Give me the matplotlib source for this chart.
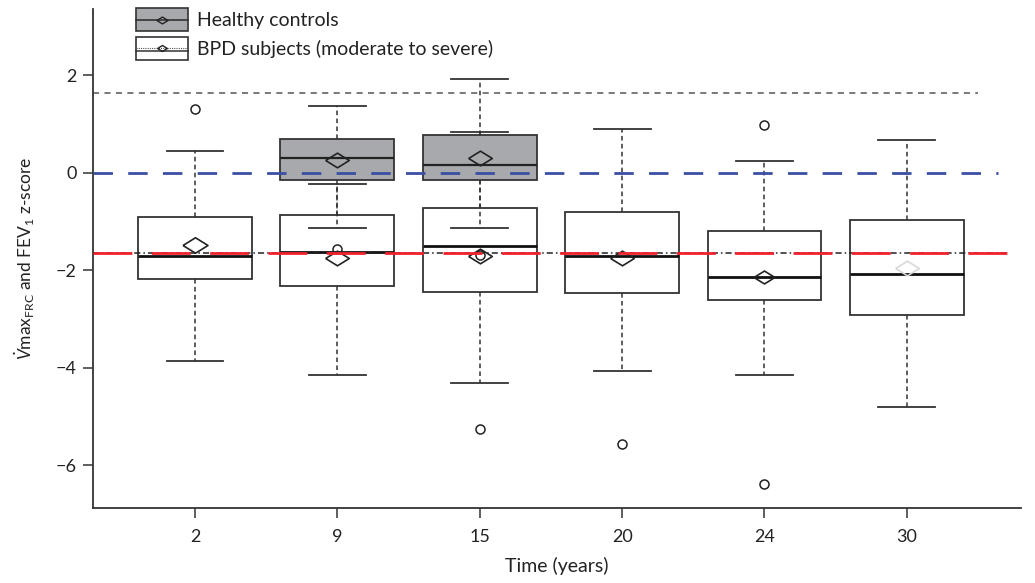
import matplotlib
matplotlib.use('Agg')
import matplotlib.pyplot as plt
from matplotlib.legend_handler import HandlerBase
from matplotlib.patches import Rectangle
from matplotlib.lines import Line2D
import numpy as np

plt.rcParams['font.family'] = ['Lato', 'DejaVu Sans']
plt.rcParams['mathtext.fontset'] = 'custom'
plt.rcParams['mathtext.rm'] = 'Lato'
plt.rcParams['mathtext.it'] = 'Lato:italic'

# time points (years)
ages = ['2', '9', '15', '20', '24', '30']

# BPD subjects (moderate to severe)
bpd_med = [-1.71, -1.62, -1.50, -1.71, -2.14, -2.07]
bpd_q1 = [-2.17, -2.32, -2.44, -2.47, -2.61, -2.92]
bpd_q3 = [-0.90, -0.86, -0.72, -0.80, -1.20, -0.97]
bpd_lo = [-3.86, -4.15, -4.31, -4.06, -4.15, -4.80]
bpd_hi = [0.45, -0.23, 0.84, 0.89, 0.25, 0.67]
bpd_mean = [-1.48, -1.75, -1.71, -1.75, -2.14, -1.96]
bpd_out = [[1.31], [], [-5.26], [-5.56], [0.97, -6.38], []]

# healthy controls (only at 9 and 15 years)
hc_idx = [1, 2]
hc_med = [0.30, 0.16]
hc_q1 = [-0.15, -0.15]
hc_q3 = [0.69, 0.78]
hc_lo = [-1.14, -1.14]
hc_hi = [1.36, 1.92]
hc_mean = [0.26, 0.30]
hc_out = [[-1.57], [-1.69]]

uln = 1.645
lln = -1.645

edge = '#333333'
grey = '#a7a9ac'
diamond = [(-1, 0), (0, 0.62), (1, 0), (0, -0.62), (-1, 0)]


def make_stats(med, q1, q3, lo, hi, out):
    return [dict(med=a, q1=b, q3=c, whislo=d, whishi=e, fliers=f)
            for a, b, c, d, e, f in zip(med, q1, q3, lo, hi, out)]


fig = plt.figure(figsize=(10.35, 5.83), dpi=100)
ax = fig.add_axes([0.0899, 0.1292, 0.8963, 0.8554])

pos = np.arange(1, len(ages) + 1)

common = dict(widths=0.8, patch_artist=True, manage_ticks=False,
              whiskerprops=dict(color=edge, lw=1.1, linestyle=(0, (3, 2.2))),
              capprops=dict(color=edge, lw=1.3),
              flierprops=dict(marker='o', markersize=6.5, markerfacecolor='none',
                              markeredgecolor='#222222', markeredgewidth=1.1))

ax.bxp(make_stats(bpd_med, bpd_q1, bpd_q3, bpd_lo, bpd_hi, bpd_out),
       positions=pos,
       boxprops=dict(facecolor='white', edgecolor=edge, lw=1.3),
       medianprops=dict(color='#111111', lw=2),
       zorder=2, **common)

hc_pos = pos[hc_idx]
ax.bxp(make_stats(hc_med, hc_q1, hc_q3, hc_lo, hc_hi, hc_out),
       positions=hc_pos,
       boxprops=dict(facecolor=grey, edgecolor=edge, lw=1.3),
       medianprops=dict(color='#222222', lw=1.6),
       zorder=3, **common)

# means
mean_colors = ['#222222'] * 5 + ['#d9d9d9']
mean_sizes = [18, 17, 17, 17, 15, 17]
for p, m, c, s in zip(pos, bpd_mean, mean_colors, mean_sizes):
    ax.plot(p, m, marker=diamond, markersize=s, markerfacecolor='none',
            markeredgecolor=c, markeredgewidth=1.2, zorder=5)
for p, m in zip(hc_pos, hc_mean):
    ax.plot(p, m, marker=diamond, markersize=17, markerfacecolor='none',
            markeredgecolor='#222222', markeredgewidth=1.2, zorder=5)

# reference lines
x0 = 0.284
ax.plot([x0, 6.5], [uln, uln], color='#555555', lw=1.1, linestyle=(0, (4, 3.5)), zorder=1)
ax.plot([x0, 6.64], [0, 0], color='#3a4fa3', lw=2, linestyle=(0, (7, 5.5)), zorder=6)
ax.plot([x0, 6.72], [lln, lln], color='#222222', lw=1.1, linestyle=(0, (4, 2, 1, 2)), zorder=4)
ax.plot([x0, 6.72], [lln, lln], color='#f0222e', lw=2, linestyle=(0, (14, 7)), zorder=6)

ax.set_xlim(x0, 6.80)
ax.set_ylim(-6.87, 3.36)
ax.set_xticks(pos)
ax.set_xticklabels(ages)
ax.set_yticks([2, 0, -2, -4, -6])
ax.set_yticklabels(['2', '0', '\u22122', '\u22124', '\u22126'])
for s in ['top', 'right']:
    ax.spines[s].set_visible(False)
for s in ['left', 'bottom']:
    ax.spines[s].set_color('#333333')
    ax.spines[s].set_linewidth(1.3)
ax.tick_params(axis='both', length=7, width=1.1, color='#333333',
               labelsize=13, labelcolor='#222222', pad=5)
ax.tick_params(axis='x', pad=8)

ax.set_xlabel('Time (years)', fontsize=14, color='#222222', labelpad=9)
ax.set_ylabel(r'$\dot{V}\mathrm{max}_{\mathrm{FRC}}$ and FEV$_1$ z-score',
              fontsize=12.5, color='#222222', labelpad=13)


class BoxHandler(HandlerBase):
    def __init__(self, face, dotted):
        super().__init__()
        self.face = face
        self.dotted = dotted

    def create_artists(self, legend, orig_handle, xdescent, ydescent,
                       width, height, fontsize, trans):
        arts = [Rectangle((-xdescent, -ydescent), width, height,
                          facecolor=self.face, edgecolor=edge, lw=1.2,
                          transform=trans)]
        cy = -ydescent + height / 2
        if self.dotted:
            arts.append(Line2D([-xdescent, -xdescent + width], [cy, cy],
                               color='#555555', lw=0.8, linestyle=(0, (1, 1)),
                               transform=trans))
            arts.append(Line2D([-xdescent, -xdescent + width],
                               [cy - height * 0.12] * 2, color=edge, lw=1.1,
                               transform=trans))
            ms = 7
        else:
            arts.append(Line2D([-xdescent, -xdescent + width], [cy, cy],
                               color=edge, lw=1.2, transform=trans))
            ms = 8
        arts.append(Line2D([-xdescent + width / 2], [cy], marker=diamond,
                           markersize=ms, markerfacecolor='none',
                           markeredgecolor='#222222', markeredgewidth=1,
                           transform=trans))
        return arts


h1 = Rectangle((0, 0), 1, 1)
h2 = Rectangle((0, 0), 1, 1)
leg = ax.legend([h1, h2], ['Healthy controls', 'BPD subjects (moderate to severe)'],
                handler_map={h1: BoxHandler(grey, False), h2: BoxHandler('white', True)},
                loc='upper left', bbox_to_anchor=(0.046, 1.002), frameon=False,
                fontsize=14, handlelength=2.7, handleheight=1.45,
                handletextpad=0.45, labelspacing=0.3, borderaxespad=0,
                borderpad=0)
for t in leg.get_texts():
    t.set_color('#222222')

fig.savefig('out.png', dpi=100)
